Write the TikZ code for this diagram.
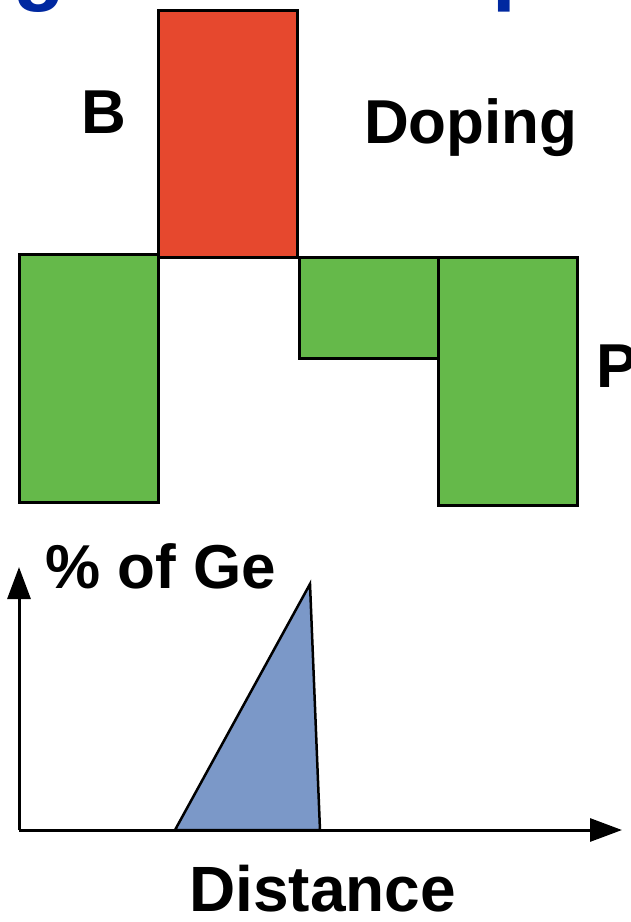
\documentclass[tikz,border=0pt]{standalone}
\usepackage{fontspec}
\setmainfont{Liberation Sans}
\usetikzlibrary{arrows.meta}
\definecolor{redbox}{RGB}{230,72,46}
\definecolor{greenbox}{RGB}{101,185,74}
\definecolor{gebox}{RGB}{123,152,200}
\definecolor{titleblue}{RGB}{0,40,160}
\tikzset{
  box/.style={draw=black,line width=3pt},
  lbl/.style={font=\bfseries\fontsize{62}{62}\selectfont,anchor=base west,inner sep=0pt},
  ttl/.style={font=\bfseries\fontsize{85}{85}\selectfont,anchor=base west,inner sep=0pt,text=titleblue},
  axis/.style={line width=3pt,-{Triangle[length=32pt,width=23pt]}}
}
\begin{document}
\begin{tikzpicture}[x=1pt,y=-1pt]
\useasboundingbox (0,0) rectangle (630,922);
\clip (0,0) rectangle (630,922);
% title remnants
\node[ttl] (tg) at (13.5,-6) {g};
\node[ttl] (tp) at (492,-6) {p};
% doping boxes
\draw[box,fill=redbox] (158,10) rectangle (297,257);
\draw[box,fill=greenbox] (19,254) rectangle (158,502);
\draw[box,fill=greenbox] (299,257) rectangle (438,358);
\draw[box,fill=greenbox] (438,257) rectangle (577,505);
% labels
\node[lbl] (B) at (81,133) {B};
\node[lbl] (doping) at (364,143) {Doping};
\node[lbl] (P) at (596,387) {P};
% Ge profile
\draw[line width=2.5pt,fill=gebox,line join=miter] (175,830) -- (310,584) -- (320,830) -- cycle;
\coordinate (O) at (19,830);
\coordinate (Ytip) at (19,567);
\coordinate (Xtip) at (622,830);
\draw[axis] (O) -- (Ytip);
\draw[axis] (O) -- (Xtip);
\node[lbl] (ge) at (45,588) {\% of Ge};
\node[lbl,font=\bfseries\fontsize{64}{64}\selectfont] (dist) at (189,911) {Distance};
\end{tikzpicture}
\end{document}
